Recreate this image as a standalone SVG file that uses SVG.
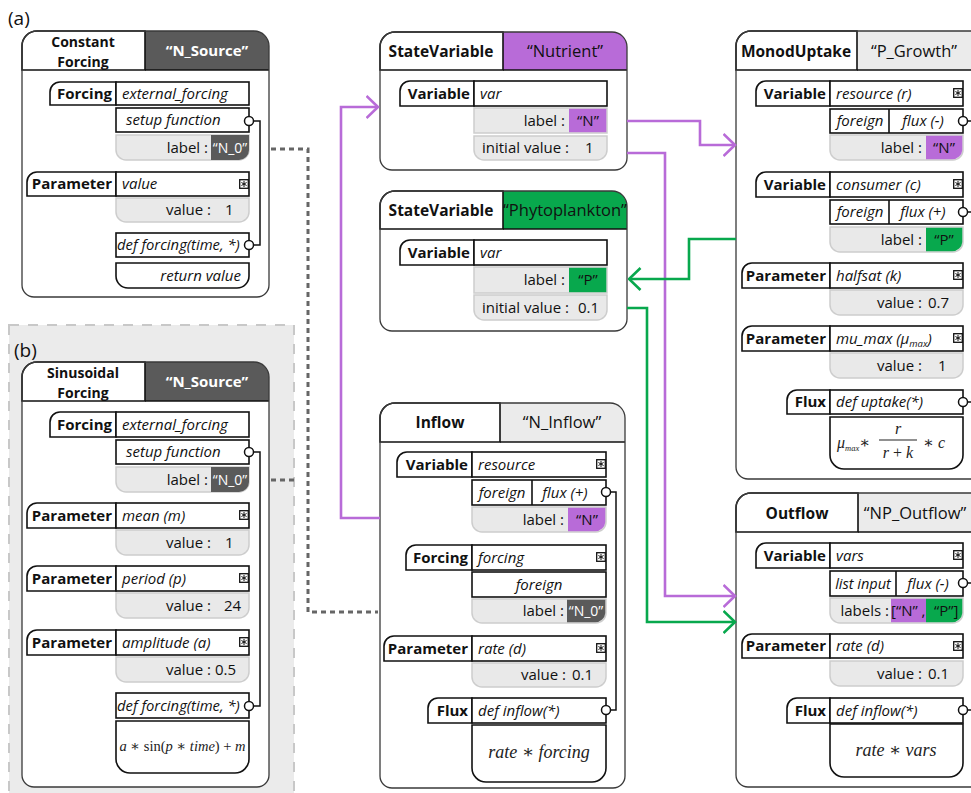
<svg xmlns="http://www.w3.org/2000/svg" xmlns:xlink="http://www.w3.org/1999/xlink" width="971" height="793" viewBox="0 0 971 793">
<style>
.bg{fill:#fff}
.ob{fill:none;stroke:#3a3a3a;stroke-width:1.3}
.c{fill:#fff;stroke:#111;stroke-width:1.6}
.g{fill:#e9e9e9;stroke:#cdcdcd;stroke-width:1.5}
.ln{fill:none;stroke:#111;stroke-width:1.6}
.dk{fill:#5a5a5a}
.pu{fill:#b86bd8}
.gr{fill:#08a84d}
.lg{fill:#ebebeb}
.pt{fill:#fff;stroke:#111;stroke-width:1.5}
.wire{fill:none;stroke:#111;stroke-width:1.5}
text{font-family:"Open Sans","Noto Sans",sans-serif;font-size:15px;fill:#111}
.bd{font-weight:700}
.it{font-style:italic}
.w{fill:#fff}
.e{text-anchor:end}
.m{text-anchor:middle}
.hd{font-size:16.5px}
.t2{font-size:14px}
.mth{font-family:"Liberation Serif","DejaVu Serif",serif;font-style:italic;font-size:18px;fill:#222}
.up{font-style:normal}
.panel{fill:#ebebeb;stroke:#c8c8c8;stroke-width:2;stroke-dasharray:10 9}
.cpu{fill:none;stroke:#b86bd8;stroke-width:2.6}
.cgr{fill:none;stroke:#08a84d;stroke-width:2.6}
.dot{fill:none;stroke:#666;stroke-width:3;stroke-dasharray:5 4}
</style>
<defs>
<symbol id="ast" viewBox="0 0 10 10"><rect x="0.7" y="0.7" width="8.6" height="8.6" fill="#fff" stroke="#111" stroke-width="1.3"/><path d="M5,2 V8 M2.4,3.5 L7.6,6.5 M2.4,6.5 L7.6,3.5" stroke="#111" stroke-width="1"/></symbol>
<marker id="apu" viewBox="0 0 14 24" refX="12.5" refY="12" markerWidth="14" markerHeight="24" markerUnits="userSpaceOnUse" orient="auto"><path d="M1,1 L12.5,12 L1,23" fill="none" stroke="#b86bd8" stroke-width="2.6"/></marker>
<marker id="agr" viewBox="0 0 14 24" refX="12.5" refY="12" markerWidth="14" markerHeight="24" markerUnits="userSpaceOnUse" orient="auto"><path d="M1,1 L12.5,12 L1,23" fill="none" stroke="#08a84d" stroke-width="2.6"/></marker>
</defs>
<rect x="0" y="0" width="971" height="793" fill="#fff"/>

<text x="8" y="25" style="font-size:19px">(a)</text>

<!-- panel b -->
<g id="panel-b">
<rect class="panel" x="9" y="325" width="285" height="480"/>
<text x="14" y="357" style="font-size:19px">(b)</text>
</g>

<!-- Constant Forcing -->
<g id="constant-forcing">
<path class="bg" d="M22,46 A15,15 0 0 1 37,31 H254 A15,15 0 0 1 269,46 V285 A12,12 0 0 1 257,297 H34 A12,12 0 0 1 22,285 Z"/>
<path class="dk" d="M145,31 H254 A15,15 0 0 1 269,46 V70 H145 Z"/>
<path class="c" d="M22,46 A15,15 0 0 1 37,31 H145 V70 H22 Z"/>
<path class="ln" d="M145,70 H269"/>
<path class="ob" d="M22,46 A15,15 0 0 1 37,31 H254 A15,15 0 0 1 269,46 V285 A12,12 0 0 1 257,297 H34 A12,12 0 0 1 22,285 Z"/>
<text class="bd m t2" x="83" y="47">Constant</text>
<text class="bd m t2" x="83" y="66.5">Forcing</text>
<text class="bd m w" x="207" y="56">“N_Source”</text>
<path class="c" d="M50,105 V92 A10,10 0 0 1 60,82 H116 V105 Z"/>
<rect class="c" x="116" y="82" width="133" height="23"/>
<text class="bd e" x="112" y="99">Forcing</text>
<text class="it" x="122" y="99">external_forcing</text>
<rect class="c" x="116" y="108" width="133" height="24"/>
<text class="it" x="126" y="125">setup function</text>
<path class="g" d="M116,135 H249 V150 A10,10 0 0 1 239,160 H126 A10,10 0 0 1 116,150 Z"/>
<path class="dk" d="M211,135 H249 V150 A10,10 0 0 1 239,160 H211 Z"/>
<text class="e" x="208" y="153">label :</text>
<text class="m w" x="230" y="153" style="font-size:14px">“N_0”</text>
<path class="c" d="M27,196 V182 A10,10 0 0 1 37,172 H116 V196 Z"/>
<rect class="c" x="116" y="172" width="133" height="24"/>
<text class="bd e" x="112" y="189">Parameter</text>
<text class="it" x="122" y="189">value</text>
<use href="#ast" x="239" y="179" width="10" height="10"/>
<path class="g" d="M116,198 H249 V212 A10,10 0 0 1 239,222 H126 A10,10 0 0 1 116,212 Z"/>
<text class="e" x="211" y="215">value :</text>
<text x="225" y="215">1</text>
<rect class="c" x="116" y="233" width="133" height="24"/>
<text class="it" x="117" y="250" style="font-size:14.8px">def forcing(time, *)</text>
<path class="c" d="M116,263 H249 V276 A12,12 0 0 1 237,288 H128 A12,12 0 0 1 116,276 Z"/>
<text class="it e" x="241" y="281">return value</text>
<path class="wire" d="M253.5,121 H260 V245 H253.5"/>
<circle class="pt" cx="249" cy="121" r="4.5"/>
<circle class="pt" cx="249" cy="245" r="4.5"/>
</g>

<!-- Sinusoidal Forcing -->
<g id="sinusoidal-forcing">
<path class="bg" d="M22,377 A15,15 0 0 1 37,362 H254 A15,15 0 0 1 269,377 V775 A12,12 0 0 1 257,787 H34 A12,12 0 0 1 22,775 Z"/>
<path class="dk" d="M145,362 H254 A15,15 0 0 1 269,377 V401 H145 Z"/>
<path class="c" d="M22,377 A15,15 0 0 1 37,362 H145 V401 H22 Z"/>
<path class="ln" d="M145,401 H269"/>
<path class="ob" d="M22,377 A15,15 0 0 1 37,362 H254 A15,15 0 0 1 269,377 V775 A12,12 0 0 1 257,787 H34 A12,12 0 0 1 22,775 Z"/>
<text class="bd m t2" x="83" y="378">Sinusoidal</text>
<text class="bd m t2" x="83" y="397.5">Forcing</text>
<text class="bd m w" x="207" y="387">“N_Source”</text>
<path class="c" d="M50,437 V422 A10,10 0 0 1 60,412 H116 V437 Z"/>
<rect class="c" x="116" y="412" width="133" height="25"/>
<text class="bd e" x="112" y="430">Forcing</text>
<text class="it" x="122" y="430">external_forcing</text>
<rect class="c" x="116" y="440" width="133" height="24"/>
<text class="it" x="126" y="457">setup function</text>
<path class="g" d="M116,467 H249 V482 A10,10 0 0 1 239,492 H126 A10,10 0 0 1 116,482 Z"/>
<path class="dk" d="M211,467 H249 V482 A10,10 0 0 1 239,492 H211 Z"/>
<text class="e" x="208" y="485">label :</text>
<text class="m w" x="230" y="485" style="font-size:14px">“N_0”</text>
<path class="c" d="M27,528 V513 A10,10 0 0 1 37,503 H116 V528 Z"/>
<rect class="c" x="116" y="503" width="133" height="25"/>
<text class="bd e" x="112" y="521">Parameter</text>
<text class="it" x="122" y="521">mean (m)</text>
<use href="#ast" x="239" y="510" width="10" height="10"/>
<path class="g" d="M116,530 H249 V545 A10,10 0 0 1 239,555 H126 A10,10 0 0 1 116,545 Z"/>
<text class="e" x="211" y="548">value :</text>
<text x="225" y="548">1</text>
<path class="c" d="M27,591 V576 A10,10 0 0 1 37,566 H116 V591 Z"/>
<rect class="c" x="116" y="566" width="133" height="25"/>
<text class="bd e" x="112" y="584">Parameter</text>
<text class="it" x="122" y="584">period (p)</text>
<use href="#ast" x="239" y="573" width="10" height="10"/>
<path class="g" d="M116,593 H249 V608 A10,10 0 0 1 239,618 H126 A10,10 0 0 1 116,608 Z"/>
<text class="e" x="211" y="611">value :</text>
<text x="224" y="611">24</text>
<path class="c" d="M27,655 V640 A10,10 0 0 1 37,630 H116 V655 Z"/>
<rect class="c" x="116" y="630" width="133" height="25"/>
<text class="bd e" x="112" y="648">Parameter</text>
<text class="it" x="122" y="648">amplitude (a)</text>
<use href="#ast" x="239" y="637" width="10" height="10"/>
<path class="g" d="M116,657 H249 V672 A10,10 0 0 1 239,682 H126 A10,10 0 0 1 116,672 Z"/>
<text class="e" x="211" y="675">value :</text>
<text x="215" y="675">0.5</text>
<rect class="c" x="116" y="693" width="133" height="25"/>
<text class="it" x="117" y="711" style="font-size:14.8px">def forcing(time, *)</text>
<path class="c" d="M116,721 H249 V759 A14,14 0 0 1 235,773 H130 A14,14 0 0 1 116,759 Z"/>
<text class="mth m" x="182.5" y="751" style="font-size:14.5px">a ∗ <tspan class="up">sin(</tspan>p ∗ time<tspan class="up">) + </tspan>m</text>
<path class="wire" d="M253.5,452 H260 V706 H253.5"/>
<circle class="pt" cx="249" cy="452" r="4.5"/>
<circle class="pt" cx="249" cy="706" r="4.5"/>
</g>

<!-- Nutrient -->
<g id="nutrient">
<path class="bg" d="M380,47 A15,15 0 0 1 395,32 H612 A15,15 0 0 1 627,47 V158 A12,12 0 0 1 615,170 H392 A12,12 0 0 1 380,158 Z"/>
<path class="pu" d="M503,32 H612 A15,15 0 0 1 627,47 V70 H503 Z"/>
<path class="c" d="M380,47 A15,15 0 0 1 395,32 H503 V70 H380 Z"/>
<path class="ln" d="M503,70 H627"/>
<path class="ob" d="M380,47 A15,15 0 0 1 395,32 H612 A15,15 0 0 1 627,47 V158 A12,12 0 0 1 615,170 H392 A12,12 0 0 1 380,158 Z"/>
<text class="bd m" x="441" y="57" style="font-size:15.5px">StateVariable</text>
<text class="m hd" x="565" y="57">“Nutrient”</text>
<path class="c" d="M400,106 V91 A10,10 0 0 1 410,81 H474 V106 Z"/>
<rect class="c" x="474" y="81" width="133" height="25"/>
<text class="bd e" x="470" y="99">Variable</text>
<text class="it" x="480" y="99">var</text>
<rect class="g" x="474" y="108" width="133" height="25"/>
<rect class="pu" x="569" y="108.8" width="37.3" height="23.4"/>
<text class="e" x="565" y="126">label :</text>
<text class="m" x="588" y="126">“N”</text>
<path class="g" d="M474,136 H607 V150 A10,10 0 0 1 597,160 H484 A10,10 0 0 1 474,150 Z"/>
<text x="482" y="153">initial value :</text>
<text x="585" y="153">1</text>
</g>

<!-- Phytoplankton -->
<g id="phytoplankton">
<path class="bg" d="M380,206 A15,15 0 0 1 395,191 H612 A15,15 0 0 1 627,206 V319 A12,12 0 0 1 615,331 H392 A12,12 0 0 1 380,319 Z"/>
<path class="gr" d="M503,191 H612 A15,15 0 0 1 627,206 V229 H503 Z"/>
<path class="c" d="M380,206 A15,15 0 0 1 395,191 H503 V229 H380 Z"/>
<path class="ln" d="M503,229 H627"/>
<path class="ob" d="M380,206 A15,15 0 0 1 395,191 H612 A15,15 0 0 1 627,206 V319 A12,12 0 0 1 615,331 H392 A12,12 0 0 1 380,319 Z"/>
<text class="bd m" x="441" y="216" style="font-size:15.5px">StateVariable</text>
<text class="m hd" x="565" y="216">“Phytoplankton”</text>
<path class="c" d="M400,265 V250 A10,10 0 0 1 410,240 H474 V265 Z"/>
<rect class="c" x="474" y="240" width="133" height="25"/>
<text class="bd e" x="470" y="258">Variable</text>
<text class="it" x="480" y="258">var</text>
<rect class="g" x="474" y="267" width="133" height="26"/>
<rect class="gr" x="569" y="267.8" width="37.3" height="24.4"/>
<text class="e" x="565" y="285">label :</text>
<text class="m" x="588" y="285">“P”</text>
<path class="g" d="M474,295 H607 V310 A10,10 0 0 1 597,320 H484 A10,10 0 0 1 474,310 Z"/>
<text x="482" y="313">initial value :</text>
<text x="578" y="313">0.1</text>
</g>

<!-- Inflow -->
<g id="inflow">
<path class="bg" d="M380,418 A15,15 0 0 1 395,403 H610 A15,15 0 0 1 625,418 V776 A12,12 0 0 1 613,788 H392 A12,12 0 0 1 380,776 Z"/>
<path class="lg" d="M500,403 H610 A15,15 0 0 1 625,418 V442 H500 Z"/>
<path class="c" d="M380,418 A15,15 0 0 1 395,403 H500 V442 H380 Z"/>
<path class="ln" d="M500,442 H625"/>
<path class="ob" d="M380,418 A15,15 0 0 1 395,403 H610 A15,15 0 0 1 625,418 V776 A12,12 0 0 1 613,788 H392 A12,12 0 0 1 380,776 Z"/>
<text class="bd m" x="440" y="428" style="font-size:15.5px">Inflow</text>
<text class="m hd" x="562" y="428">“N_Inflow”</text>
<path class="c" d="M397,477 V462 A10,10 0 0 1 407,452 H472 V477 Z"/>
<rect class="c" x="472" y="452" width="134" height="25"/>
<text class="bd e" x="468" y="470">Variable</text>
<text class="it" x="478" y="470">resource</text>
<use href="#ast" x="596" y="459" width="10" height="10"/>
<rect class="c" x="472" y="480" width="134" height="25"/>
<path class="ln" d="M532,480 V505"/>
<text class="it m" x="502" y="498">foreign</text>
<text class="it m" x="565" y="498">flux (+)</text>
<path class="g" d="M472,507 H606 V522 A10,10 0 0 1 596,532 H482 A10,10 0 0 1 472,522 Z"/>
<path class="pu" d="M568,507.8 H605.3 V522 A10,10 0 0 1 595.3,531.3 H568 Z"/>
<text class="e" x="564" y="525">label :</text>
<text class="m" x="587" y="525">“N”</text>
<path class="c" d="M406,570 V555 A10,10 0 0 1 416,545 H472 V570 Z"/>
<rect class="c" x="472" y="545" width="134" height="25"/>
<text class="bd e" x="468" y="563">Forcing</text>
<text class="it" x="478" y="563">forcing</text>
<use href="#ast" x="596" y="552" width="10" height="10"/>
<rect class="c" x="472" y="572" width="134" height="25"/>
<text class="it m" x="539" y="590">foreign</text>
<path class="g" d="M472,599 H606 V613 A10,10 0 0 1 596,623 H482 A10,10 0 0 1 472,613 Z"/>
<path class="dk" d="M567,599.8 H605.3 V613 A10,10 0 0 1 595.3,622.3 H567 Z"/>
<text class="e" x="564" y="616">label :</text>
<text class="m w" x="586" y="616" style="font-size:14px">“N_0”</text>
<path class="c" d="M384,661 V646 A10,10 0 0 1 394,636 H472 V661 Z"/>
<rect class="c" x="472" y="636" width="134" height="25"/>
<text class="bd e" x="468" y="654">Parameter</text>
<text class="it" x="478" y="654">rate (d)</text>
<use href="#ast" x="596" y="643" width="10" height="10"/>
<path class="g" d="M472,663 H606 V677 A10,10 0 0 1 596,687 H482 A10,10 0 0 1 472,677 Z"/>
<text class="e" x="566" y="680">value :</text>
<text x="572" y="680">0.1</text>
<path class="c" d="M428,723 V708 A10,10 0 0 1 438,698 H472 V723 Z"/>
<rect class="c" x="472" y="698" width="134" height="25"/>
<text class="bd e" x="468" y="716">Flux</text>
<text class="it" x="478" y="716">def inflow(*)</text>
<path class="c" d="M472,725 H606 V768 A14,14 0 0 1 592,782 H486 A14,14 0 0 1 472,768 Z"/>
<text class="mth m" x="539" y="758">rate ∗ forcing</text>
<path class="wire" d="M610.5,492 H616 V710 H610.5"/>
<circle class="pt" cx="606" cy="492" r="4.5"/>
<circle class="pt" cx="606" cy="710" r="4.5"/>
</g>

<!-- MonodUptake -->
<g id="monod-uptake">
<path class="bg" d="M736,46 A15,15 0 0 1 751,31 H985 V479 H748 A12,12 0 0 1 736,467 Z"/>
<rect class="lg" x="857" y="31" width="130" height="39"/>
<path class="c" d="M736,46 A15,15 0 0 1 751,31 H857 V70 H736 Z"/>
<path class="ln" d="M857,70 H985"/>
<path class="ob" d="M990,31 H751 A15,15 0 0 0 736,46 V467 A12,12 0 0 0 748,479 H990"/>
<text class="bd m" x="796" y="57" style="font-size:15.5px">MonodUptake</text>
<text class="m hd" x="914" y="57">“P_Growth”</text>
<path class="c" d="M756,106 V91 A10,10 0 0 1 766,81 H830 V106 Z"/>
<rect class="c" x="830" y="81" width="133" height="25"/>
<text class="bd e" x="826" y="99">Variable</text>
<text class="it" x="836" y="99">resource (r)</text>
<use href="#ast" x="953" y="88" width="10" height="10"/>
<rect class="c" x="830" y="109" width="133" height="24"/>
<path class="ln" d="M889,109 V133"/>
<text class="it m" x="860" y="126">foreign</text>
<text class="it m" x="923" y="126">flux (-)</text>
<path class="g" d="M830,135 H963 V150 A10,10 0 0 1 953,160 H840 A10,10 0 0 1 830,150 Z"/>
<path class="pu" d="M926,135.8 H962.3 V150 A10,10 0 0 1 952.3,159.3 H926 Z"/>
<text class="e" x="922" y="153">label :</text>
<text class="m" x="944" y="153">“N”</text>
<path class="c" d="M756,197 V182 A10,10 0 0 1 766,172 H830 V197 Z"/>
<rect class="c" x="830" y="172" width="133" height="25"/>
<text class="bd e" x="826" y="190">Variable</text>
<text class="it" x="836" y="190">consumer (c)</text>
<use href="#ast" x="953" y="179" width="10" height="10"/>
<rect class="c" x="830" y="200" width="133" height="24"/>
<path class="ln" d="M889,200 V224"/>
<text class="it m" x="860" y="217">foreign</text>
<text class="it m" x="923" y="217">flux (+)</text>
<path class="g" d="M830,227 H963 V242 A10,10 0 0 1 953,252 H840 A10,10 0 0 1 830,242 Z"/>
<path class="gr" d="M926,227.8 H962.3 V242 A10,10 0 0 1 952.3,251.3 H926 Z"/>
<text class="e" x="922" y="245">label :</text>
<text class="m" x="944" y="245">“P”</text>
<path class="c" d="M742,288 V273 A10,10 0 0 1 752,263 H830 V288 Z"/>
<rect class="c" x="830" y="263" width="133" height="25"/>
<text class="bd e" x="826" y="281">Parameter</text>
<text class="it" x="836" y="281">halfsat (k)</text>
<use href="#ast" x="953" y="270" width="10" height="10"/>
<path class="g" d="M830,290 H963 V305 A10,10 0 0 1 953,315 H840 A10,10 0 0 1 830,305 Z"/>
<text class="e" x="922" y="308">value :</text>
<text x="928" y="308">0.7</text>
<path class="c" d="M742,351 V336 A10,10 0 0 1 752,326 H830 V351 Z"/>
<rect class="c" x="830" y="326" width="133" height="25"/>
<text class="bd e" x="826" y="344">Parameter</text>
<text class="it" x="836" y="344">mu_max (μ<tspan dy="3" style="font-size:9.5px">max</tspan><tspan dy="-3">)</tspan></text>
<use href="#ast" x="953" y="333" width="10" height="10"/>
<path class="g" d="M830,353 H963 V368 A10,10 0 0 1 953,378 H840 A10,10 0 0 1 830,368 Z"/>
<text class="e" x="922" y="371">value :</text>
<text x="938" y="371">1</text>
<path class="c" d="M787,414 V400 A10,10 0 0 1 797,390 H830 V414 Z"/>
<rect class="c" x="830" y="390" width="133" height="24"/>
<text class="bd e" x="826" y="407">Flux</text>
<text class="it" x="836" y="407">def uptake(*)</text>
<path class="c" d="M830,417 H963 V455 A14,14 0 0 1 949,469 H844 A14,14 0 0 1 830,455 Z"/>
<text class="mth" x="837" y="448" style="font-size:16px">μ<tspan dy="3" style="font-size:8.5px">max</tspan><tspan dy="-3" class="up">∗</tspan></text>
<text class="mth m" x="898" y="434" style="font-size:16px">r</text>
<path d="M879,440 H917" stroke="#222" stroke-width="1.1"/>
<text class="mth m" x="898" y="458" style="font-size:16px">r <tspan class="up">+</tspan> k</text>
<text class="mth" x="923" y="448" style="font-size:16px"><tspan class="up">∗</tspan> c</text>
<path class="wire" d="M967.5,121 H975 M967.5,212 H975 M967.5,402 H975"/>
<circle class="pt" cx="963" cy="121" r="4.5"/>
<circle class="pt" cx="963" cy="212" r="4.5"/>
<circle class="pt" cx="963" cy="402" r="4.5"/>
</g>

<!-- Outflow -->
<g id="outflow">
<path class="bg" d="M736,508 A15,15 0 0 1 751,493 H985 V787 H748 A12,12 0 0 1 736,775 Z"/>
<rect class="lg" x="858" y="493" width="130" height="39"/>
<path class="c" d="M736,508 A15,15 0 0 1 751,493 H858 V532 H736 Z"/>
<path class="ln" d="M858,532 H985"/>
<path class="ob" d="M990,493 H751 A15,15 0 0 0 736,508 V775 A12,12 0 0 0 748,787 H990"/>
<text class="bd m" x="797" y="519" style="font-size:15.5px">Outflow</text>
<text class="m hd" x="915" y="519">“NP_Outflow”</text>
<path class="c" d="M756,568 V553 A10,10 0 0 1 766,543 H830 V568 Z"/>
<rect class="c" x="830" y="543" width="133" height="25"/>
<text class="bd e" x="826" y="561">Variable</text>
<text class="it" x="836" y="561">vars</text>
<use href="#ast" x="953" y="550" width="10" height="10"/>
<rect class="c" x="830" y="571" width="133" height="25"/>
<path class="ln" d="M896,571 V596"/>
<text class="it m" x="863" y="589" style="font-size:14.5px">list input</text>
<text class="it m" x="928" y="589">flux (-)</text>
<path class="g" d="M830,598 H963 V613 A10,10 0 0 1 953,623 H840 A10,10 0 0 1 830,613 Z"/>
<rect class="pu" x="891" y="598.8" width="35" height="23.4"/>
<path class="gr" d="M926,598.8 H962.3 V613 A10,10 0 0 1 952.3,622.3 H926 Z"/>
<text class="e" x="889" y="616">labels :</text>
<text x="891" y="616">[“N” ,</text>
<text x="934" y="616">“P”]</text>
<path class="c" d="M742,658 V644 A10,10 0 0 1 752,634 H830 V658 Z"/>
<rect class="c" x="830" y="634" width="133" height="24"/>
<text class="bd e" x="826" y="651">Parameter</text>
<text class="it" x="836" y="651">rate (d)</text>
<use href="#ast" x="953" y="641" width="10" height="10"/>
<path class="g" d="M830,661 H963 V676 A10,10 0 0 1 953,686 H840 A10,10 0 0 1 830,676 Z"/>
<text class="e" x="922" y="679">value :</text>
<text x="928" y="679">0.1</text>
<path class="c" d="M787,723 V708 A10,10 0 0 1 797,698 H830 V723 Z"/>
<rect class="c" x="830" y="698" width="133" height="25"/>
<text class="bd e" x="826" y="716">Flux</text>
<text class="it" x="836" y="716">def inflow(*)</text>
<path class="c" d="M830,724 H963 V763 A14,14 0 0 1 949,777 H844 A14,14 0 0 1 830,763 Z"/>
<text class="mth m" x="896" y="756">rate ∗ vars</text>
<path class="wire" d="M967.5,583 H975 M967.5,710 H975"/>
<circle class="pt" cx="963" cy="583" r="4.5"/>
<circle class="pt" cx="963" cy="710" r="4.5"/>
</g>

<!-- connectors -->
<g id="connectors">
<path class="dot" d="M271,149 H308 V612 H378"/>
<path class="dot" d="M271,480 H294"/>
<path class="cpu" d="M380,518 H341 V107 H378" marker-end="url(#apu)"/>
<path class="cpu" d="M627,121 H700 V145 H735" marker-end="url(#apu)"/>
<path class="cpu" d="M627,153 H665 V596 H735" marker-end="url(#apu)"/>
<path class="cgr" d="M736,239 H689 V279 H629" marker-end="url(#agr)"/>
<path class="cgr" d="M627,308 H647 V622 H735" marker-end="url(#agr)"/>
</g>
</svg>
